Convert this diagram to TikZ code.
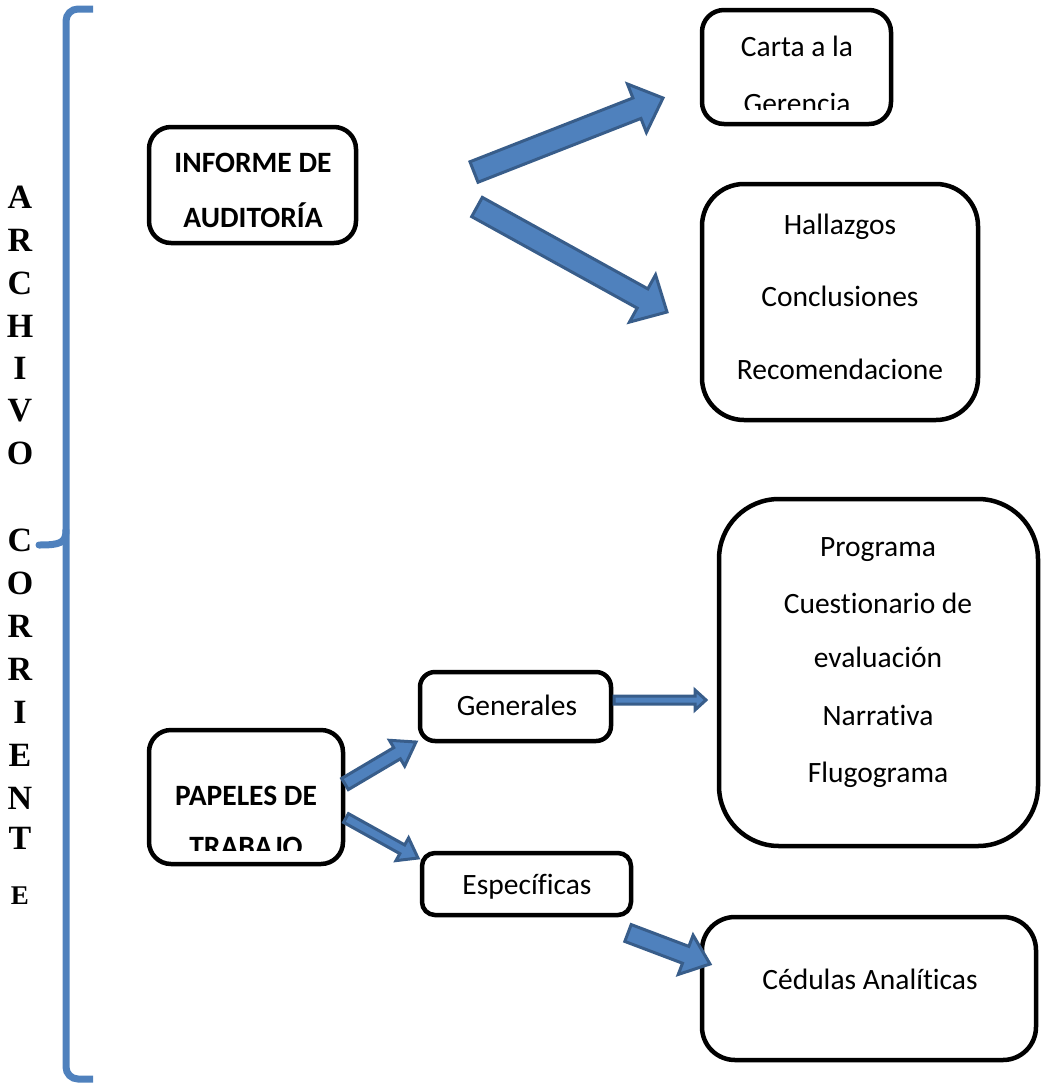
\documentclass[tikz,border=0pt]{standalone}
\usepackage{fontspec}
\setmainfont[Ligatures=NoCommon]{Carlito}
\newfontfamily\letterfont{Liberation Serif}
\usetikzlibrary{calc}
\definecolor{accent}{HTML}{4F81BD}
\definecolor{accentdark}{HTML}{385D8A}

% Block arrow from #1 to #2: shaft half width #3, head half width #4, head length #5
\newcommand\blockarrow[5]{%
  \coordinate (hb) at ($(#2)!#5!(#1)$);
  \draw[arrowbody]
    ($(#1)!#3!90:(#2)$) -- ($(hb)!#3!90:(#2)$) -- ($(hb)!#4!90:(#2)$) --
    (#2) --
    ($(hb)!#4!-90:(#2)$) -- ($(hb)!#3!-90:(#2)$) -- ($(#1)!#3!-90:(#2)$) -- cycle;
}

\tikzset{
  panel/.style={draw=black, line width=4.5pt, rounded corners=#1, inner sep=0pt},
  txt/.style={font=\fontsize{29.5}{29.5}\selectfont, anchor=base, inner sep=0pt},
  btxt/.style={txt, font=\fontsize{29.5}{29.5}\selectfont\bfseries},
  letter/.style={font=\letterfont\bfseries\fontsize{34}{34}\selectfont, anchor=base, inner sep=0pt},
  smallletter/.style={font=\letterfont\bfseries\fontsize{27}{27}\selectfont, anchor=base, inner sep=0pt},
  brace/.style={draw=accent, line width=7pt},
  arrowbody/.style={fill=accent, draw=accentdark, line width=3pt, line join=miter},
}

\begin{document}
\begin{tikzpicture}[x=1pt, y=-1pt]
\useasboundingbox (0,0) rectangle (1042,1088);

% left brace
\draw[brace, rounded corners=12pt] (93,9) -- (66,9) -- (66,1079) -- (93,1079);
\draw[brace, line cap=round] (66,530) .. controls (66,543) and (60,545) .. (39,545);

% vertical title letters
\foreach \ch/\yy [count=\i] in {A/197, R/240, C/283, H/326, I/368, V/410, O/453,
                                C/540, O/583, R/626, R/669, I/712, E/755, N/798, T/838}
  \node[letter] (L\i) at (20,\yy+11) {\ch};
\node[smallletter] (L16) at (20,904) {E};

% boxes
\node[panel=22pt, minimum width=207pt, minimum height=116pt] (informe) at (252.5,185) {};
\node[panel=22pt, minimum width=189pt, minimum height=114pt] (carta) at (796.5,67) {};
\node[panel=42pt, minimum width=276pt, minimum height=236pt] (hallazgos) at (840,302) {};
\node[panel=60pt, minimum width=319pt, minimum height=347pt] (programa) at (878.5,672.5) {};
\node[panel=15pt, minimum width=191pt, minimum height=69pt] (generales) at (515.5,706.5) {};
\node[panel=13pt, minimum width=209pt, minimum height=62pt] (especificas) at (526.5,884) {};
\node[panel=33pt, minimum width=334pt, minimum height=143pt] (cedulas) at (869,988.5) {};
\node[panel=22pt, minimum width=194pt, minimum height=134pt] (papeles) at (246,797) {};

% box texts
\node[btxt] (t-inf1) at (253,172) {INFORME DE};
\node[btxt] (t-inf2) at (253,227) {AUDITORÍA};

\node[txt] (t-car1) at (797,56) {Carta a la};
\begin{scope}
  \clip (705,70) rectangle (890,109);
  \node[txt] (t-car2) at (797,113) {Gerencia};
\end{scope}

\node[txt] (t-hal1) at (840,234) {Hallazgos};
\node[txt] (t-hal2) at (840,306) {Conclusiones};
\node[txt] (t-hal3) at (840,379) {Recomendacione};

\node[txt] (t-pro1) at (878,556) {Programa};
\node[txt] (t-pro2) at (878,613) {Cuestionario de};
\node[txt] (t-pro3) at (878,667) {evaluación};
\node[txt] (t-pro4) at (878,725) {Narrativa};
\node[txt] (t-pro5) at (878,782) {Flugograma};

\node[txt] (t-gen) at (517,715) {Generales};
\node[txt] (t-esp) at (527,894) {Específicas};
\node[txt] (t-ced) at (870,989) {Cédulas Analíticas};

\node[btxt] (t-pap1) at (246,805) {PAPELES DE};
\begin{scope}
  \clip (150,820) rectangle (340,850);
  \node[btxt] (t-pap2) at (246,856) {TRABAJO};
\end{scope}

% arrow ends
\coordinate (a1s) at (474,172);  \coordinate (a1e) at (663,98);
\coordinate (a2s) at (477,207);  \coordinate (a2e) at (667,312);
\coordinate (a3s) at (614,700);  \coordinate (a3e) at (706,700);
\coordinate (a4s) at (345,784);  \coordinate (a4e) at (416,742);
\coordinate (a5s) at (346,818);  \coordinate (a5e) at (418,858);
\coordinate (a6s) at (628,933);  \coordinate (a6e) at (710,964);

% block arrows
\blockarrow{a1s}{a1e}{11pt}{26pt}{28pt}
\blockarrow{a2s}{a2e}{11pt}{27pt}{28pt}
\blockarrow{a3s}{a3e}{4pt}{10pt}{11pt}
\blockarrow{a4s}{a4e}{6.5pt}{15pt}{22pt}
\blockarrow{a5s}{a5e}{5pt}{13pt}{18pt}
\blockarrow{a6s}{a6e}{9pt}{21pt}{26pt}
\end{tikzpicture}
\end{document}
